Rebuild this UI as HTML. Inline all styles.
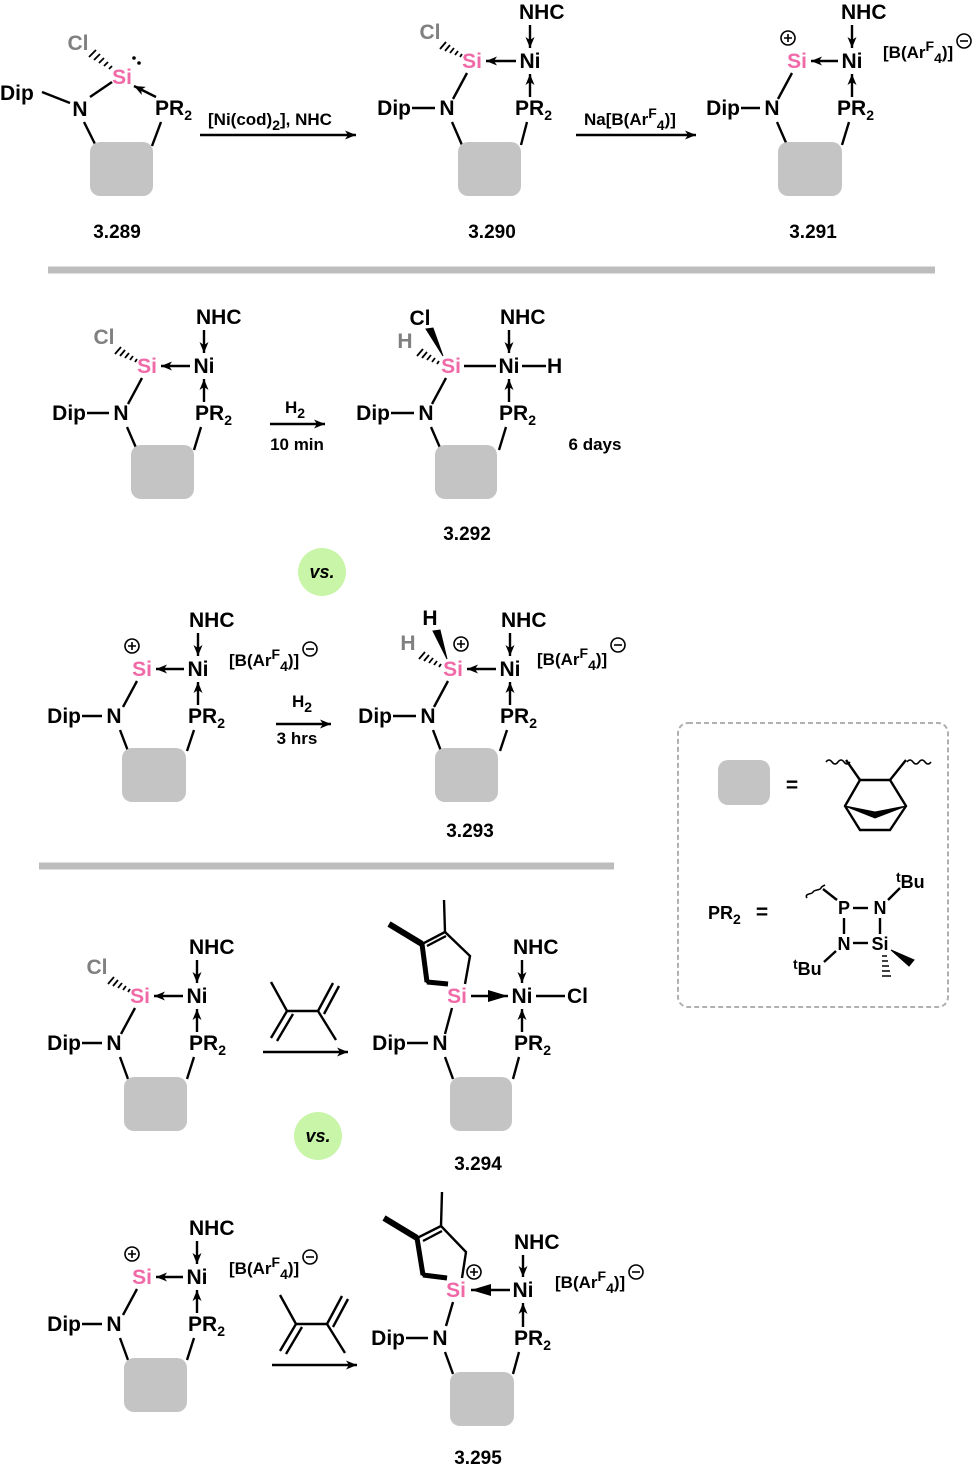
<!DOCTYPE html>
<html><head><meta charset="utf-8"><style>
html,body{margin:0;padding:0;background:#fff}
svg{display:block}
text{font-family:"Liberation Sans",Arial,sans-serif;font-weight:bold;font-size:21px;fill:#000}
.si{fill:#f06aa8;text-anchor:middle}
.m{text-anchor:middle}
.e{text-anchor:end}
.g{fill:#808080}
.s{font-size:14px}
.ci{font-size:17px}
.lab{font-size:19px;text-anchor:middle}
line,path,polyline{stroke:#000;stroke-width:2.4;fill:none}
.box{fill:#c4c4c4;stroke:none}
</style></head><body>
<svg width="980" height="1468" viewBox="0 0 980 1468" xmlns="http://www.w3.org/2000/svg">
<defs>
<marker id="a" markerUnits="userSpaceOnUse" markerWidth="13" markerHeight="11" refX="11" refY="5.5" orient="auto"><path d="M0,1 L11,5.5 L0,10 L3,5.5 Z" style="fill:#000;stroke:none"/></marker>
<marker id="A" markerUnits="userSpaceOnUse" markerWidth="22" markerHeight="14" refX="20" refY="7" orient="auto"><path d="M0,1 L20,7 L0,13 Z" style="fill:#000;stroke:none"/></marker>
</defs>

<!-- 3.289 -->
<g>
<text class="si" x="122" y="84">Si</text>
<circle cx="134" cy="58" r="1.8" fill="#000"/><circle cx="139" cy="63" r="1.8" fill="#000"/>
<text class="g" x="78" y="50" text-anchor="middle">Cl</text>
<path d="M112,66 l-3,3 M108,62 l-4,4 M104,58 l-5,5 M100,54 l-6,6 M96,50 l-7,7" style="stroke-width:1.8"/>
<line x1="112" y1="82" x2="90" y2="97"/>
<text class="m" x="80" y="116">N</text>
<line x1="70" y1="103" x2="42" y2="92"/>
<text x="0" y="100">Dip</text>
<line x1="156" y1="97" x2="134" y2="86" marker-end="url(#a)"/>
<text x="155" y="115">PR<tspan class="s" dy="5">2</tspan></text>
<line x1="84" y1="122" x2="96" y2="146"/>
<line x1="161" y1="122" x2="152" y2="146"/>
<rect class="box" x="90" y="142" width="63" height="54" rx="10"/>
<text class="lab" x="117" y="238">3.289</text>
</g>
<line x1="200" y1="135" x2="356" y2="135" marker-end="url(#a)"/>
<text x="208" y="125" style="font-size:17px">[Ni(cod)<tspan class="s" dy="5">2</tspan><tspan dy="-5">], NHC</tspan></text>

<!-- 3.290 -->
<g transform="translate(472,61)">
<text class="si" x="0" y="7">Si</text>
<text class="m" x="58" y="7">Ni</text>
<text x="47" y="-42">NHC</text>
<line x1="58" y1="-36" x2="58" y2="-13" marker-end="url(#a)"/>
<line x1="44" y1="0" x2="14" y2="0" marker-end="url(#a)"/>
<text class="g" x="-42" y="-22" text-anchor="middle">Cl</text>
<path d="M-10,-7 l-2,3 M-14,-10 l-3,4 M-18,-13 l-4,5 M-22,-16 l-5,6 M-26,-19 l-6,7" style="stroke-width:1.8"/>
<line x1="-5" y1="12" x2="-19" y2="38"/>
<text class="m" x="-25" y="54">N</text>
<line x1="-37" y1="47" x2="-60" y2="47"/>
<text class="e" x="-61" y="54">Dip</text>
<text x="43" y="54">PR<tspan class="s" dy="5">2</tspan></text>
<line x1="58" y1="36" x2="58" y2="13" marker-end="url(#a)"/>
<line x1="-20" y1="61" x2="-10" y2="84"/>
<line x1="55" y1="61" x2="49" y2="84"/>
<rect class="box" x="-14" y="81" width="63" height="54" rx="10"/>
<text class="lab" x="20" y="177">3.290</text>
</g>
<line x1="576" y1="135" x2="696" y2="135" marker-end="url(#a)"/>
<text x="584" y="125" style="font-size:17px">Na[B(Ar<tspan class="s" dy="-7">F</tspan><tspan class="s" dy="12">4</tspan><tspan dy="-5">)]</tspan></text>

<!-- 3.291 -->
<g transform="translate(797,61)">
<text class="si" x="0" y="7">Si</text>
<circle cx="-9" cy="-23" r="7" fill="none" stroke="#000" stroke-width="1.6"/><path d="M-13,-23 h8 M-9,-27 v8" style="stroke-width:1.6"/>
<text class="m" x="55" y="7">Ni</text>
<text x="44" y="-42">NHC</text>
<line x1="55" y1="-36" x2="55" y2="-13" marker-end="url(#a)"/>
<line x1="41" y1="0" x2="14" y2="0" marker-end="url(#a)"/>
<text x="86" y="-3" class="ci">[B(Ar<tspan class="s" dy="-7">F</tspan><tspan class="s" dy="12">4</tspan><tspan dy="-5">)]</tspan></text>
<circle cx="167" cy="-20" r="7" fill="none" stroke="#000" stroke-width="1.6"/><path d="M163,-20 h8" style="stroke-width:1.6"/>
<line x1="-5" y1="12" x2="-19" y2="38"/>
<text class="m" x="-25" y="54">N</text>
<line x1="-37" y1="47" x2="-56" y2="47"/>
<text class="e" x="-57" y="54">Dip</text>
<text x="40" y="54">PR<tspan class="s" dy="5">2</tspan></text>
<line x1="55" y1="36" x2="55" y2="13" marker-end="url(#a)"/>
<line x1="-20" y1="61" x2="-10" y2="84"/>
<line x1="52" y1="61" x2="45" y2="84"/>
<rect class="box" x="-19" y="81" width="64" height="54" rx="10"/>
<text class="lab" x="16" y="177">3.291</text>
</g>

<line x1="48" y1="270" x2="935" y2="270" style="stroke:#bdbdbd;stroke-width:7"/>

<!-- row2 left -->
<g transform="translate(147,366)">
<text class="si" x="0" y="7">Si</text>
<text class="m" x="57" y="7">Ni</text>
<text x="49" y="-42">NHC</text>
<line x1="57" y1="-36" x2="57" y2="-13" marker-end="url(#a)"/>
<line x1="43" y1="0" x2="14" y2="0" marker-end="url(#a)"/>
<text class="g" x="-43" y="-22" text-anchor="middle">Cl</text>
<path d="M-10,-7 l-2,3 M-14,-10 l-3,4 M-18,-13 l-4,5 M-22,-16 l-5,6 M-26,-19 l-6,7" style="stroke-width:1.8"/>
<line x1="-5" y1="12" x2="-19" y2="38"/>
<text class="m" x="-26" y="54">N</text>
<line x1="-38" y1="47" x2="-60" y2="47"/>
<text class="e" x="-61" y="54">Dip</text>
<text x="48" y="54">PR<tspan class="s" dy="5">2</tspan></text>
<line x1="57" y1="36" x2="57" y2="13" marker-end="url(#a)"/>
<line x1="-20" y1="61" x2="-10" y2="84"/>
<line x1="54" y1="61" x2="47" y2="84"/>
<rect class="box" x="-16" y="79" width="63" height="54" rx="10"/>
</g>
<line x1="270" y1="424" x2="325" y2="424" marker-end="url(#a)"/>
<text class="m" x="295" y="413" style="font-size:17px">H<tspan class="s" dy="5">2</tspan></text>
<text class="m" x="297" y="450" style="font-size:17px">10 min</text>
<text class="m" x="595" y="450" style="font-size:17px">6 days</text>

<!-- 3.292 -->
<g transform="translate(451,366)">
<text class="si" x="0" y="7">Si</text>
<text class="m" x="58" y="7">Ni</text>
<text x="49" y="-42">NHC</text>
<line x1="58" y1="-36" x2="58" y2="-13" marker-end="url(#a)"/>
<line x1="13" y1="0" x2="45" y2="0"/>
<line x1="71" y1="0" x2="95" y2="0"/>
<text x="96" y="7">H</text>
<text x="-31" y="-41" text-anchor="middle">Cl</text>
<path d="M-8,-10 L-25,-37 L-18,-38 Z" style="fill:#000;stroke-width:1"/>
<text class="g" x="-46" y="-18" text-anchor="middle">H</text>
<path d="M-12,-5 l-2,3 M-16,-8 l-3,4 M-20,-11 l-4,5 M-24,-14 l-5,6 M-28,-17 l-6,7" style="stroke-width:1.8"/>
<line x1="-5" y1="12" x2="-19" y2="38"/>
<text class="m" x="-25" y="54">N</text>
<line x1="-37" y1="47" x2="-60" y2="47"/>
<text class="e" x="-61" y="54">Dip</text>
<text x="48" y="54">PR<tspan class="s" dy="5">2</tspan></text>
<line x1="58" y1="36" x2="58" y2="13" marker-end="url(#a)"/>
<line x1="-20" y1="61" x2="-10" y2="84"/>
<line x1="55" y1="61" x2="48" y2="84"/>
<rect class="box" x="-16" y="79" width="62" height="54" rx="10"/>
<text class="lab" x="16" y="174">3.292</text>
</g>

<circle cx="322" cy="572" r="24" fill="#c8f5a8"/>
<text class="m" x="322" y="578" style="font-style:italic;font-size:18px">vs.</text>

<!-- row3 left -->
<g transform="translate(142,669)">
<text class="si" x="0" y="7">Si</text>
<circle cx="-10" cy="-23" r="7" fill="none" stroke="#000" stroke-width="1.6"/><path d="M-14,-23 h8 M-10,-27 v8" style="stroke-width:1.6"/>
<text class="m" x="56" y="7">Ni</text>
<text x="47" y="-42">NHC</text>
<line x1="56" y1="-36" x2="56" y2="-13" marker-end="url(#a)"/>
<line x1="42" y1="0" x2="14" y2="0" marker-end="url(#a)"/>
<text x="87" y="-3" class="ci">[B(Ar<tspan class="s" dy="-7">F</tspan><tspan class="s" dy="12">4</tspan><tspan dy="-5">)]</tspan></text>
<circle cx="168" cy="-20" r="7" fill="none" stroke="#000" stroke-width="1.6"/><path d="M164,-20 h8" style="stroke-width:1.6"/>
<line x1="-5" y1="12" x2="-19" y2="38"/>
<text class="m" x="-28" y="54">N</text>
<line x1="-40" y1="47" x2="-60" y2="47"/>
<text class="e" x="-61" y="54">Dip</text>
<text x="46" y="54">PR<tspan class="s" dy="5">2</tspan></text>
<line x1="56" y1="36" x2="56" y2="13" marker-end="url(#a)"/>
<line x1="-22" y1="61" x2="-14" y2="82"/>
<line x1="52" y1="61" x2="45" y2="82"/>
<rect class="box" x="-20" y="79" width="64" height="54" rx="10"/>
</g>
<line x1="276" y1="724" x2="331" y2="724" marker-end="url(#a)"/>
<text class="m" x="302" y="707" style="font-size:17px">H<tspan class="s" dy="5">2</tspan></text>
<text class="m" x="297" y="744" style="font-size:17px">3 hrs</text>

<!-- 3.293 -->
<g transform="translate(453,669)">
<text class="si" x="0" y="7">Si</text>
<circle cx="8" cy="-25" r="7" fill="none" stroke="#000" stroke-width="1.6"/><path d="M4,-25 h8 M8,-29 v8" style="stroke-width:1.6"/>
<text class="m" x="57" y="7">Ni</text>
<text x="48" y="-42">NHC</text>
<line x1="57" y1="-36" x2="57" y2="-13" marker-end="url(#a)"/>
<line x1="43" y1="0" x2="14" y2="0" marker-end="url(#a)"/>
<text x="84" y="-4" class="ci">[B(Ar<tspan class="s" dy="-7">F</tspan><tspan class="s" dy="12">4</tspan><tspan dy="-5">)]</tspan></text>
<circle cx="165" cy="-24" r="7" fill="none" stroke="#000" stroke-width="1.6"/><path d="M161,-24 h8" style="stroke-width:1.6"/>
<text x="-23" y="-44" text-anchor="middle">H</text>
<path d="M-6,-10 L-20,-38 L-13,-39 Z" style="fill:#000;stroke-width:1"/>
<text class="g" x="-45" y="-19" text-anchor="middle">H</text>
<path d="M-12,-5 l-2,3 M-16,-8 l-3,4 M-20,-11 l-4,5 M-24,-14 l-5,6 M-28,-17 l-6,7" style="stroke-width:1.8"/>
<line x1="-5" y1="12" x2="-19" y2="38"/>
<text class="m" x="-25" y="54">N</text>
<line x1="-37" y1="47" x2="-60" y2="47"/>
<text class="e" x="-61" y="54">Dip</text>
<text x="47" y="54">PR<tspan class="s" dy="5">2</tspan></text>
<line x1="57" y1="36" x2="57" y2="13" marker-end="url(#a)"/>
<line x1="-20" y1="61" x2="-12" y2="82"/>
<line x1="54" y1="61" x2="47" y2="82"/>
<rect class="box" x="-18" y="79" width="63" height="54" rx="10"/>
<text class="lab" x="17" y="168">3.293</text>
</g>

<line x1="39" y1="866" x2="614" y2="866" style="stroke:#bdbdbd;stroke-width:7"/>

<!-- legend -->
<rect x="678" y="723" width="270" height="284" rx="10" fill="none" stroke="#b0b0b0" stroke-width="2" stroke-dasharray="5,3"/>
<rect class="box" x="718" y="760" width="52" height="45" rx="10"/>
<text class="m" x="792" y="792">=</text>
<path d="M826,762 q3,-4 6,0 t6,0 t6,0 t6,0 M907,762 q3,-4 6,0 t6,0 t6,0 t6,0" style="stroke-width:1.6"/>
<line x1="846" y1="760" x2="860" y2="780"/>
<line x1="906" y1="760" x2="890" y2="780"/>
<path d="M860,780 L890,780 L906,806 L890,830 L860,830 L845,806 Z"/>
<path d="M845,806 L875,818 L906,806 L875,812 Z" style="fill:#000;stroke-width:1"/>
<text x="708" y="919" style="font-size:18px">PR<tspan class="s" dy="5">2</tspan></text>
<text class="m" x="762" y="919">=</text>
<path d="M807,898 q-2,-3 2,-4 t4,-2 t4,-2 t4,-2 t4,-3" style="stroke-width:1.6"/>
<line x1="823" y1="889" x2="837" y2="900"/>
<text class="m" x="844" y="914" style="font-size:18px">P</text>
<line x1="853" y1="908" x2="868" y2="908"/>
<text class="m" x="880" y="914" style="font-size:18px">N</text>
<line x1="888" y1="900" x2="900" y2="888"/>
<text x="896" y="888" style="font-size:18px"><tspan class="s" dy="-6">t</tspan><tspan dy="6">Bu</tspan></text>
<line x1="844" y1="918" x2="844" y2="934"/>
<line x1="880" y1="918" x2="880" y2="934"/>
<text class="m" x="844" y="950" style="font-size:18px">N</text>
<line x1="853" y1="943" x2="868" y2="943"/>
<text class="m" x="880" y="950" style="font-size:18px">Si</text>
<line x1="836" y1="951" x2="824" y2="962"/>
<text x="793" y="975" style="font-size:18px"><tspan class="s" dy="-6">t</tspan><tspan dy="6">Bu</tspan></text>
<path d="M891,950 L914,960 L909,966 Z" style="fill:#000;stroke-width:1"/>
<path d="M882,956 h5 M882,961 h6 M882,966 h7 M882,971 h8 M882,976 h9" style="stroke-width:1.6"/>

<!-- row4 left -->
<g transform="translate(140,996)">
<text class="si" x="0" y="7">Si</text>
<text class="m" x="57" y="7">Ni</text>
<text x="49" y="-42">NHC</text>
<line x1="57" y1="-36" x2="57" y2="-13" marker-end="url(#a)"/>
<line x1="43" y1="0" x2="14" y2="0" marker-end="url(#a)"/>
<text class="g" x="-43" y="-22" text-anchor="middle">Cl</text>
<path d="M-10,-7 l-2,3 M-14,-10 l-3,4 M-18,-13 l-4,5 M-22,-16 l-5,6 M-26,-19 l-6,7" style="stroke-width:1.8"/>
<line x1="-5" y1="12" x2="-19" y2="38"/>
<text class="m" x="-26" y="54">N</text>
<line x1="-38" y1="47" x2="-58" y2="47"/>
<text class="e" x="-59" y="54">Dip</text>
<text x="49" y="54">PR<tspan class="s" dy="5">2</tspan></text>
<line x1="57" y1="36" x2="57" y2="13" marker-end="url(#a)"/>
<line x1="-20" y1="61" x2="-12" y2="83"/>
<line x1="54" y1="61" x2="47" y2="83"/>
<rect class="box" x="-16" y="81" width="63" height="54" rx="10"/>
</g>
<g>
<line x1="271" y1="982" x2="287" y2="1011"/>
<line x1="287" y1="1011" x2="318" y2="1011"/>
<line x1="287" y1="1011" x2="271" y2="1038"/>
<line x1="293" y1="1014" x2="277" y2="1041"/>
<line x1="318" y1="1011" x2="336" y2="1040"/>
<line x1="318" y1="1011" x2="333" y2="983"/>
<line x1="324" y1="1014" x2="339" y2="986"/>
<line x1="263" y1="1052" x2="348" y2="1052" marker-end="url(#a)"/>
</g>

<!-- 3.294 -->
<g transform="translate(457,996)">
<text class="si" x="0" y="7">Si</text>
<text class="m" x="65" y="7">Ni</text>
<text x="56" y="-42">NHC</text>
<line x1="65" y1="-36" x2="65" y2="-13" marker-end="url(#a)"/>
<line x1="14" y1="0" x2="51" y2="0" marker-end="url(#A)"/>
<line x1="79" y1="0" x2="108" y2="0"/>
<text x="110" y="7">Cl</text>
<path d="M-9,-12 L-30,-14 L-35,-52 L-12,-64 L13,-40 L8,-12"/>
<path d="M-9,-12 L-30,-14" style="stroke-width:5"/>
<path d="M-30,-14 L-35,-52" style="stroke-width:5"/>
<line x1="-30" y1="-50" x2="-11" y2="-60"/>
<path d="M-35,-52 L-68,-72" style="stroke-width:6"/>
<line x1="-12" y1="-64" x2="-13" y2="-96"/>
<line x1="-5" y1="12" x2="-12" y2="38"/>
<text class="m" x="-17" y="54">N</text>
<line x1="-29" y1="47" x2="-50" y2="47"/>
<text class="e" x="-51" y="54">Dip</text>
<text x="57" y="54">PR<tspan class="s" dy="5">2</tspan></text>
<line x1="65" y1="36" x2="65" y2="13" marker-end="url(#a)"/>
<line x1="-12" y1="61" x2="-4" y2="83"/>
<line x1="62" y1="61" x2="56" y2="83"/>
<rect class="box" x="-7" y="81" width="62" height="54" rx="10"/>
<text class="lab" x="21" y="174">3.294</text>
</g>

<circle cx="318" cy="1136" r="24" fill="#c8f5a8"/>
<text class="m" x="318" y="1142" style="font-style:italic;font-size:18px">vs.</text>

<!-- row5 left -->
<g transform="translate(142,1277)">
<text class="si" x="0" y="7">Si</text>
<circle cx="-10" cy="-23" r="7" fill="none" stroke="#000" stroke-width="1.6"/><path d="M-14,-23 h8 M-10,-27 v8" style="stroke-width:1.6"/>
<text class="m" x="55" y="7">Ni</text>
<text x="47" y="-42">NHC</text>
<line x1="55" y1="-36" x2="55" y2="-13" marker-end="url(#a)"/>
<line x1="41" y1="0" x2="14" y2="0" marker-end="url(#a)"/>
<text x="87" y="-3" class="ci">[B(Ar<tspan class="s" dy="-7">F</tspan><tspan class="s" dy="12">4</tspan><tspan dy="-5">)]</tspan></text>
<circle cx="168" cy="-20" r="7" fill="none" stroke="#000" stroke-width="1.6"/><path d="M164,-20 h8" style="stroke-width:1.6"/>
<line x1="-5" y1="12" x2="-19" y2="38"/>
<text class="m" x="-28" y="54">N</text>
<line x1="-40" y1="47" x2="-60" y2="47"/>
<text class="e" x="-61" y="54">Dip</text>
<text x="46" y="54">PR<tspan class="s" dy="5">2</tspan></text>
<line x1="55" y1="36" x2="55" y2="13" marker-end="url(#a)"/>
<line x1="-22" y1="61" x2="-14" y2="83"/>
<line x1="52" y1="61" x2="45" y2="83"/>
<rect class="box" x="-18" y="81" width="63" height="54" rx="10"/>
</g>
<g transform="translate(9,313)">
<line x1="271" y1="982" x2="287" y2="1011"/>
<line x1="287" y1="1011" x2="318" y2="1011"/>
<line x1="287" y1="1011" x2="271" y2="1038"/>
<line x1="293" y1="1014" x2="277" y2="1041"/>
<line x1="318" y1="1011" x2="336" y2="1040"/>
<line x1="318" y1="1011" x2="333" y2="983"/>
<line x1="324" y1="1014" x2="339" y2="986"/>
</g>
<line x1="272" y1="1365" x2="357" y2="1365" marker-end="url(#a)"/>

<!-- 3.295 -->
<g transform="translate(456,1290)">
<text class="si" x="0" y="7">Si</text>
<circle cx="18" cy="-18" r="7" fill="none" stroke="#000" stroke-width="1.6"/><path d="M14,-18 h8 M18,-22 v8" style="stroke-width:1.6"/>
<text class="m" x="67" y="7">Ni</text>
<text x="58" y="-41">NHC</text>
<line x1="67" y1="-35" x2="67" y2="-13" marker-end="url(#a)"/>
<line x1="54" y1="0" x2="15" y2="0" marker-end="url(#A)"/>
<text x="99" y="-2" class="ci">[B(Ar<tspan class="s" dy="-7">F</tspan><tspan class="s" dy="12">4</tspan><tspan dy="-5">)]</tspan></text>
<circle cx="180" cy="-18" r="7" fill="none" stroke="#000" stroke-width="1.6"/><path d="M176,-18 h8" style="stroke-width:1.6"/>
<path d="M-9,-12 L-33,-15 L-39,-52 L-15,-64 L10,-38 L6,-12"/>
<path d="M-9,-12 L-33,-15" style="stroke-width:5"/>
<path d="M-33,-15 L-39,-52" style="stroke-width:5"/>
<line x1="-33" y1="-49" x2="-14" y2="-59"/>
<path d="M-39,-52 L-72,-72" style="stroke-width:6"/>
<line x1="-15" y1="-64" x2="-14" y2="-98"/>
<line x1="-3" y1="12" x2="-10" y2="36"/>
<text class="m" x="-16" y="55">N</text>
<line x1="-28" y1="48" x2="-50" y2="48"/>
<text class="e" x="-51" y="55">Dip</text>
<text x="58" y="55">PR<tspan class="s" dy="5">2</tspan></text>
<line x1="67" y1="37" x2="67" y2="13" marker-end="url(#a)"/>
<line x1="-11" y1="62" x2="-3" y2="84"/>
<line x1="63" y1="62" x2="57" y2="84"/>
<rect class="box" x="-6" y="82" width="64" height="54" rx="10"/>
<text class="lab" x="22" y="174">3.295</text>
</g>
</svg>
</body></html>
